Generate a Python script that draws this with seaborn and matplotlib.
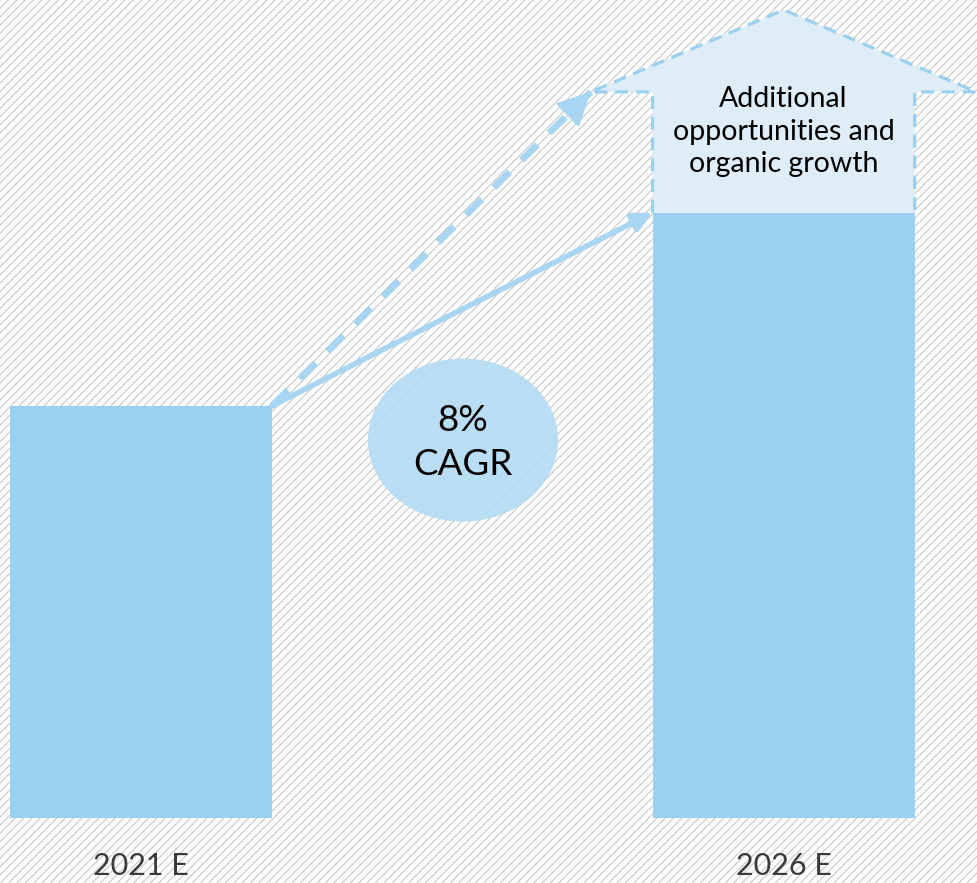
import matplotlib
matplotlib.use("Agg")
import matplotlib.pyplot as plt
import seaborn as sns
from matplotlib.patches import Rectangle, Polygon, Ellipse

# data
years = ["2021 E", "2026 E"]
values = [100, 146.9]          # indexed, 8% CAGR over 5 years
upside_value = 176.2           # additional opportunities level
cagr_label = "8%\nCAGR"
upside_label = "Additional\nopportunities and\norganic growth"

bar_color = "#9bd0f0"
light_fill = "#deedf7"
arrow_color = "#a8d6f2"
bar_w = 0.408

sns.set_theme(style="white")
plt.rcParams["font.family"] = ["Lato", "DejaVu Sans"]
plt.rcParams["hatch.linewidth"] = 0.8

fig = plt.figure(figsize=(9.77, 8.83), dpi=100)
fig.patch.set_facecolor("white")
ax = fig.add_axes([0, 0, 1, 1])
ax.set_facecolor("none")

sns.barplot(x=years, y=values, order=years, color=bar_color, saturation=1,
            width=bar_w, ax=ax, zorder=2, linewidth=0)

ax.set_xlim(-0.2195, 1.301)
ax.set_ylim(-15.8, 198.5)
ax.axis("off")

# diagonal hatched background
bg = Rectangle((0, 0), 1, 1, transform=ax.transAxes, facecolor="white",
               edgecolor="#c8c8c8", hatch="////", linewidth=0, zorder=0)
ax.add_patch(bg)

# upside "house" arrow above the 2026 bar
x2 = 1
top2 = values[1]
head_half = 0.3
peak = upside_value + 19.9
house = Polygon([(x2 - bar_w / 2, top2), (x2 - bar_w / 2, upside_value),
                 (x2 - head_half, upside_value), (x2, peak),
                 (x2 + head_half, upside_value), (x2 + bar_w / 2, upside_value),
                 (x2 + bar_w / 2, top2)],
                closed=False, facecolor=light_fill, edgecolor=bar_color,
                linewidth=2.3, linestyle=(0, (4, 2.5)), zorder=3)
ax.add_patch(house)
ax.text(x2, (top2 + upside_value) / 2 + 5, upside_label, ha="center", va="center",
        fontsize=20.5, color="black", linespacing=1.3, zorder=6)

# growth arrows
start = (0 + bar_w / 2, values[0])
ax.annotate("", xy=(x2 - bar_w / 2, top2), xytext=start,
            arrowprops=dict(arrowstyle="-|>", color=arrow_color, lw=4,
                            mutation_scale=28, shrinkA=0, shrinkB=0), zorder=4)
# dashed shaft drawn as a line, solid head via annotate
end = (x2 - head_half, upside_value)
ax.plot([start[0], end[0]], [start[1], end[1]], color=arrow_color,
        lw=5, linestyle=(0, (3.2, 2.4)), dash_capstyle="butt", zorder=4)
near = (start[0] + 0.93 * (end[0] - start[0]), start[1] + 0.93 * (end[1] - start[1]))
ax.annotate("", xy=end, xytext=near,
            arrowprops=dict(arrowstyle="-|>,head_length=0.8,head_width=0.4",
                            color=arrow_color, lw=2, mutation_scale=26,
                            shrinkA=0, shrinkB=0), zorder=4)

# CAGR bubble
ell = Ellipse((0.501, 91.7), 0.296, 39.6, facecolor="#b3dbf3", alpha=0.9,
              edgecolor="none", zorder=5)
ax.add_patch(ell)
ax.text(0.501, 91.2, cagr_label, ha="center", va="center", fontsize=26.5,
        color="black", linespacing=1.4, zorder=6)

# category labels
for i, yr in enumerate(years):
    ax.text(i, -11.65, yr, ha="center", va="center", fontsize=22,
            color="#3a3a3a", zorder=6)

fig.savefig("out.png", dpi=100)
